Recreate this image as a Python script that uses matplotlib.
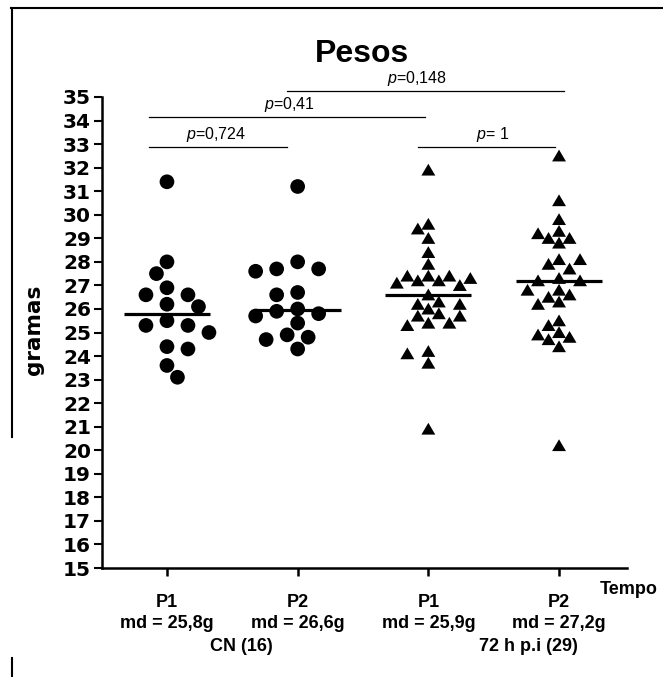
import numpy as np
import matplotlib
matplotlib.use("Agg")
import matplotlib.pyplot as plt
from matplotlib.lines import Line2D
from matplotlib.transforms import blended_transform_factory

plt.rcParams['mathtext.fontset'] = 'custom'
plt.rcParams['mathtext.rm'] = 'Liberation Sans'
plt.rcParams['mathtext.it'] = 'Liberation Sans:italic'

# ---------------- data ----------------
cn_p1 = [31.4, 28.0, 27.5, 26.9, 26.6, 26.6, 26.2, 26.1, 25.5, 25.3, 25.3, 25.0,
         24.4, 24.3, 23.6, 23.1]
cn_p2 = [31.2, 28.0, 27.7, 27.6, 27.7, 26.6, 26.7, 25.9, 26.0, 25.7, 25.8, 25.4,
         24.8, 24.7, 24.9, 24.3]
inf_p1 = [31.9, 29.6, 29.4, 29.0, 28.4, 27.9, 27.3, 27.4, 27.2, 27.4, 27.0, 27.1,
          27.2, 27.4, 26.6, 26.2, 26.2, 26.3, 26.0, 25.7, 25.4, 25.3, 25.4, 25.7,
          25.8, 24.1, 24.2, 23.7, 20.9]
inf_p2 = [32.5, 30.6, 29.8, 29.3, 29.0, 29.2, 29.0, 28.8, 28.1, 27.9, 28.1, 27.7,
          27.3, 27.2, 27.2, 26.8, 26.8, 26.6, 26.5, 26.3, 26.2, 25.5, 25.3, 24.9,
          25.0, 24.7, 24.8, 24.4, 20.2]
groups = [cn_p1, cn_p2, inf_p1, inf_p2]
group_markers = ['o', 'o', 'tri', 'tri']
tick_labels = ['P1\nmd = 25,8g', 'P2\nmd = 26,6g', 'P1\nmd = 25,9g', 'P2\nmd = 27,2g']
group_names = ['CN (16)', '72 h p.i (29)']
y_ticks = list(range(15, 36))
p_labels = ['$p$=0,724', '$p$=0,41', '$p$=0,148', '$p$= 1']

# ---------------- figure ----------------
W, H = 663, 677
fig = plt.figure(figsize=(W / 100, H / 100), dpi=100)
fig.patch.set_facecolor('white')

def fx(x):
    return x / W

def fy(y):
    return 1 - y / H

ax_left, ax_right, ax_top, ax_bot = 102, 627, 97, 568
ax = fig.add_axes([fx(ax_left), fy(ax_bot), (ax_right - ax_left) / W, (ax_bot - ax_top) / H])
xlim = (0.503, 4.52)
ylim = (15, 35)
ax.set_xlim(*xlim)
ax.set_ylim(*ylim)

xscale = (ax_right - ax_left) / (xlim[1] - xlim[0])  # px per x unit
yscale = (ax_bot - ax_top) / (ylim[1] - ylim[0])     # px per y unit


def swarm(vals, col, d):
    """Grid-based beeswarm (columns every `col` px, min distance `d` px)."""
    ys = np.asarray(vals, dtype=float) * yscale
    order = np.argsort(-ys, kind='stable')
    xs = np.zeros(len(ys))
    placed = []
    for k, i in enumerate(order):
        sgn = 1 if k % 2 else -1
        for m in range(0, 40):
            found = False
            for cand in ([0] if m == 0 else [sgn * m, -sgn * m]):
                x = cand * col
                if all((x - xs[j]) ** 2 + (ys[i] - ys[j]) ** 2 >= d * d for j in placed):
                    xs[i] = x
                    found = True
                    break
            if found:
                break
        placed.append(i)
    return xs / xscale


tri = [(-1, -0.8), (1, -0.8), (0, 0.9)]
for gi, (vals, mk) in enumerate(zip(groups, group_markers)):
    pos = gi + 1
    if mk == 'o':
        offs = swarm(vals, 10.5, 14.0)
        ax.scatter(pos + offs, vals, s=112, marker='o', color='black',
                   edgecolors='none', zorder=3, clip_on=False)
    else:
        offs = swarm(vals, 10.5, 11.0)
        ax.scatter(pos + offs, vals, s=100, marker=tri, color='black',
                   edgecolors='none', zorder=3, clip_on=False)
    med = np.median(vals)
    ax.plot([pos - 0.33, pos + 0.33], [med, med], color='black', lw=2.3,
            solid_capstyle='butt', zorder=4)

# axes styling
for s in ['top', 'right']:
    ax.spines[s].set_visible(False)
for s in ['left', 'bottom']:
    ax.spines[s].set_linewidth(1.8)
ax.set_yticks(y_ticks)
ax.set_yticklabels([str(v) for v in y_ticks], fontfamily='DejaVu Sans',
                   fontweight='bold', fontsize=14.5)
ax.tick_params(axis='y', direction='out', length=6, width=1.5, pad=2)
ax.set_xticks([1, 2, 3, 4])
ax.set_xticklabels(tick_labels, fontfamily='Liberation Sans', fontweight='bold',
                   fontsize=13, linespacing=1.3)
ax.tick_params(axis='x', direction='out', length=6, width=1.8, pad=13)

# group labels
bt = blended_transform_factory(ax.transData, fig.transFigure)
ax.text(1.572, fy(651), group_names[0], transform=bt, ha='center', va='baseline',
        fontfamily='Liberation Sans', fontweight='bold', fontsize=13)
ax.text(3.768, fy(651), group_names[1], transform=bt, ha='center', va='baseline',
        fontfamily='Liberation Sans', fontweight='bold', fontsize=13)

# axis titles
fig.text(fx(600), fy(594), 'Tempo', ha='left', va='baseline',
         fontfamily='Liberation Sans', fontweight='bold', fontsize=13)
fig.text(fx(34), fy(330), 'gramas', rotation=90, ha='center', va='center',
         fontfamily='DejaVu Sans', fontweight='bold', fontsize=15.5)
fig.text(fx(362), fy(62), 'Pesos', ha='center', va='baseline',
         fontfamily='Liberation Sans', fontweight='bold', fontsize=23)

# significance lines
brackets = [((0.862, 1.922), 32.89, 1.375),
            ((0.862, 2.974), 34.14, 1.941),
            ((1.921, 4.041), 35.25, 2.911),
            ((2.920, 3.969), 32.89, 3.491)]
for ((x0, x1), yl, xt), lab in zip(brackets, p_labels):
    ax.plot([x0, x1], [yl, yl], color='black', lw=0.9, clip_on=False, zorder=2)
    ax.annotate(lab, xy=(xt, yl), xytext=(0, 2), textcoords='offset points',
                ha='center', va='bottom', fontfamily='Liberation Sans',
                fontsize=11.5, annotation_clip=False)

# outer frame fragments
fig.add_artist(Line2D([fx(11), fx(663)], [fy(8), fy(8)], transform=fig.transFigure,
                      color='black', lw=1.5))
fig.add_artist(Line2D([fx(12), fx(12)], [fy(8), fy(437)], transform=fig.transFigure,
                      color='black', lw=1.5))
fig.add_artist(Line2D([fx(12), fx(12)], [fy(658), fy(677)], transform=fig.transFigure,
                      color='black', lw=1.5))

fig.savefig('out.png', dpi=100, facecolor='white')
